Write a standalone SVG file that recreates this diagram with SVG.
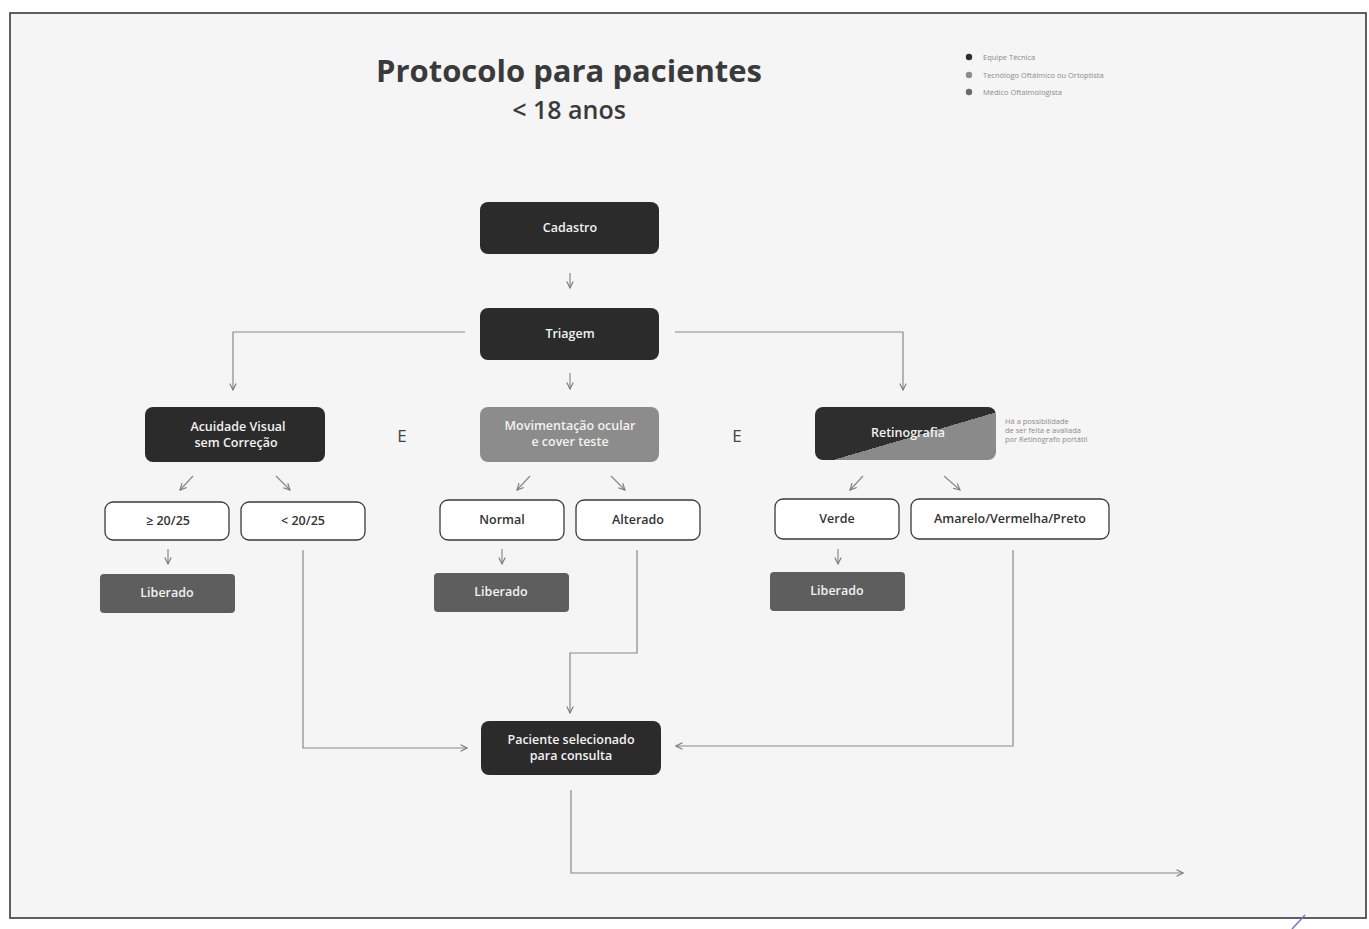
<svg xmlns="http://www.w3.org/2000/svg" width="1369" height="929" viewBox="0 0 1369 929">
<defs>
<style>
.dark{fill:#2b2b2b}
.mid{fill:#8c8c8c}
.lib{fill:#5e5e5e}
.opt{fill:#ffffff;stroke:#3a3a3a;stroke-width:1.3}
.wt{fill:#f2f2f2;font-family:"Open Sans","DejaVu Sans",sans-serif;font-size:12.5px;font-weight:600;text-anchor:middle}
.bt{fill:#333;font-family:"Open Sans","DejaVu Sans",sans-serif;font-size:12.5px;font-weight:600;text-anchor:middle}
.ln{fill:none;stroke:#8a8a8a;stroke-width:1.2}
.sm{fill:#8a8a8a;font-family:"Open Sans","DejaVu Sans",sans-serif;font-size:7.5px}
</style>
<marker id="ah" viewBox="0 0 10 10" refX="9" refY="5" markerWidth="8" markerHeight="8" orient="auto" markerUnits="userSpaceOnUse">
<path d="M1,1 L9,5 L1,9" fill="none" stroke="#7a7a7a" stroke-width="1.4"/>
</marker>
<linearGradient id="diag" x1="0" y1="0" x2="1" y2="1">
<stop offset="0.55" stop-color="#2e2e2e"/>
<stop offset="0.55" stop-color="#8a8a8a"/>
</linearGradient>
</defs>
<rect x="0" y="0" width="1369" height="929" fill="#ffffff"/>
<rect x="10" y="13" width="1356" height="905" fill="#f5f5f5" stroke="#3a3a3a" stroke-width="1.6"/>
<line x1="1292" y1="929" x2="1305" y2="915" stroke="#6f74c8" stroke-width="1.5"/>

<g id="title">
<text x="569" y="82" text-anchor="middle" font-family="Open Sans, DejaVu Sans, sans-serif" font-size="31" font-weight="700" fill="#3a3a3a">Protocolo para pacientes</text>
<text x="569" y="119" text-anchor="middle" font-family="Open Sans, DejaVu Sans, sans-serif" font-size="25" font-weight="600" fill="#3a3a3a">&lt; 18 anos</text>
</g>

<g id="legend">
<circle cx="969" cy="57" r="3.2" fill="#2e2e2e"/>
<circle cx="969" cy="75" r="3.2" fill="#8c8c8c"/>
<circle cx="969" cy="92" r="3.2" fill="#6a6a6a"/>
<text class="sm" x="983" y="60">Equipe Técnica</text>
<text class="sm" x="983" y="78">Tecnólogo Oftálmico ou Ortoptista</text>
<text class="sm" x="983" y="95">Médico Oftalmologista</text>
</g>

<g id="connectors">
<line class="ln" x1="570" y1="273" x2="570" y2="288" marker-end="url(#ah)"/>
<polyline class="ln" points="465,332 233,332 233,390" marker-end="url(#ah)"/>
<polyline class="ln" points="675,332 903,332 903,390" marker-end="url(#ah)"/>
<line class="ln" x1="570" y1="373" x2="570" y2="389" marker-end="url(#ah)"/>
<line class="ln" x1="193" y1="476" x2="180" y2="490" marker-end="url(#ah)"/>
<line class="ln" x1="276" y1="476" x2="290" y2="490" marker-end="url(#ah)"/>
<line class="ln" x1="530" y1="476" x2="517" y2="490" marker-end="url(#ah)"/>
<line class="ln" x1="611" y1="476" x2="625" y2="490" marker-end="url(#ah)"/>
<line class="ln" x1="863" y1="476" x2="850" y2="490" marker-end="url(#ah)"/>
<line class="ln" x1="944" y1="476" x2="960" y2="490" marker-end="url(#ah)"/>
<line class="ln" x1="168" y1="549" x2="168" y2="564" marker-end="url(#ah)"/>
<line class="ln" x1="502" y1="549" x2="502" y2="564" marker-end="url(#ah)"/>
<line class="ln" x1="838" y1="549" x2="838" y2="564" marker-end="url(#ah)"/>
<polyline class="ln" points="303,550 303,748 467,748" marker-end="url(#ah)"/>
<polyline class="ln" points="637,550 637,653 570,653 570,713" marker-end="url(#ah)"/>
<polyline class="ln" points="1013,550 1013,746 676,746" marker-end="url(#ah)"/>
<polyline class="ln" points="571,790 571,873 1183,873" marker-end="url(#ah)"/>
</g>

<g id="cadastro">
<rect class="dark" x="480" y="202" width="179" height="52" rx="8"/>
<text class="wt" x="570" y="232">Cadastro</text>
</g>
<g id="triagem">
<rect class="dark" x="480" y="308" width="179" height="52" rx="8"/>
<text class="wt" x="570" y="338">Triagem</text>
</g>
<g id="acuidade">
<rect class="dark" x="145" y="407" width="180" height="55" rx="8"/>
<text class="wt" x="238" y="431">Acuidade Visual</text>
<text class="wt" x="236" y="447">sem Correção</text>
</g>
<g id="movimentacao">
<rect class="mid" x="480" y="407" width="179" height="55" rx="8"/>
<text class="wt" x="570" y="430">Movimentação ocular</text>
<text class="wt" x="570" y="446">e cover teste</text>
</g>
<g id="retinografia">
<rect x="815" y="407" width="181" height="53" rx="8" fill="url(#diag)"/>
<text class="wt" x="908" y="437">Retinografia</text>
</g>
<g id="nota">
<text class="sm" x="1005" y="424" font-size="6.5">Há a possibilidade</text>
<text class="sm" x="1005" y="433" font-size="6.5">de ser feita e avaliada</text>
<text class="sm" x="1005" y="442" font-size="6.5">por Retinógrafo portátil</text>
</g>
<g id="e1"><text x="402" y="442" text-anchor="middle" font-family="Open Sans, DejaVu Sans, sans-serif" font-size="17" fill="#444">E</text></g>
<g id="e2"><text x="737" y="442" text-anchor="middle" font-family="Open Sans, DejaVu Sans, sans-serif" font-size="17" fill="#444">E</text></g>

<g id="ge2025">
<rect class="opt" x="105" y="502" width="124" height="38" rx="8"/>
<text class="bt" x="168" y="525">≥ 20/25</text>
</g>
<g id="lt2025">
<rect class="opt" x="241" y="502" width="124" height="38" rx="8"/>
<text class="bt" x="303" y="525">&lt; 20/25</text>
</g>
<g id="normal">
<rect class="opt" x="440" y="500" width="124" height="40" rx="8"/>
<text class="bt" x="502" y="524">Normal</text>
</g>
<g id="alterado">
<rect class="opt" x="576" y="500" width="124" height="40" rx="8"/>
<text class="bt" x="638" y="524">Alterado</text>
</g>
<g id="verde">
<rect class="opt" x="775" y="499" width="124" height="40" rx="8"/>
<text class="bt" x="837" y="523">Verde</text>
</g>
<g id="amarelo">
<rect class="opt" x="911" y="499" width="198" height="40" rx="8"/>
<text class="bt" x="1010" y="523">Amarelo/Vermelha/Preto</text>
</g>

<g id="liberado1">
<rect class="lib" x="100" y="574" width="135" height="39" rx="4"/>
<text class="wt" x="167" y="597" font-size="11.5">Liberado</text>
</g>
<g id="liberado2">
<rect class="lib" x="434" y="573" width="135" height="39" rx="4"/>
<text class="wt" x="501" y="596" font-size="11.5">Liberado</text>
</g>
<g id="liberado3">
<rect class="lib" x="770" y="572" width="135" height="39" rx="4"/>
<text class="wt" x="837" y="595" font-size="11.5">Liberado</text>
</g>

<g id="paciente">
<rect class="dark" x="481" y="721" width="180" height="54" rx="8"/>
<text class="wt" x="571" y="744">Paciente selecionado</text>
<text class="wt" x="571" y="760">para consulta</text>
</g>
</svg>
